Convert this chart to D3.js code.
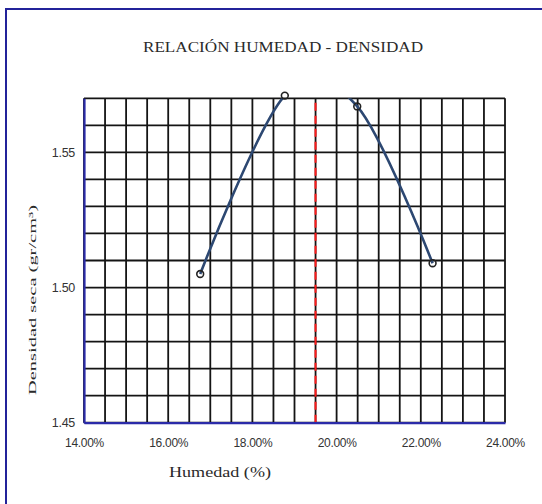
<!DOCTYPE html>
<html>
<head>
<meta charset="utf-8">
<script src="https://cdn.jsdelivr.net/npm/d3@7"></script>
<style>
  body { margin: 0; background: #fff; }
  svg { display: block; }
</style>
</head>
<body>
<svg id="chart" width="542" height="504"></svg>
<script>
// Compaction test: moisture content vs dry density
const humedad = [0.1676, 0.1877, 0.2049, 0.2228];
const densidad = [1.505, 1.571, 1.567, 1.509];
const humedadOptima = 0.195;

const xTicks = [0.14, 0.16, 0.18, 0.20, 0.22, 0.24];
const yTicks = [1.45, 1.50, 1.55];
const xDomain = [0.14, 0.24];
const yDomain = [1.45, 1.57];
const xGridStep = 0.005;
const yGridStep = 0.01;

const titulo = "RELACIÓN HUMEDAD - DENSIDAD";
const tituloX = "Humedad (%)";
const tituloY = "Densidad seca (gr/cm³)";

const svg = d3.select("#chart");
const plot = { left: 84, right: 505, top: 98.3, bottom: 422.7 };

const x = d3.scaleLinear().domain(xDomain).range([plot.left, plot.right]);
const y = d3.scaleLinear().domain(yDomain).range([plot.bottom, plot.top]);

// outer frame of the chart object
svg.append("rect")
  .attr("x", 6).attr("y", 9).attr("width", 620).attr("height", 600)
  .attr("fill", "none").attr("stroke", "#23239a").attr("stroke-width", 2);

// title
svg.append("text")
  .attr("x", 283).attr("y", 52)
  .attr("text-anchor", "middle")
  .attr("font-family", "'Liberation Serif', 'Times New Roman', serif")
  .attr("font-size", 15.5)
  .attr("textLength", 280).attr("lengthAdjust", "spacingAndGlyphs")
  .attr("fill", "#2a2a2a")
  .text(titulo);

// grid
const xGrid = d3.range(0, Math.round((xDomain[1] - xDomain[0]) / xGridStep) + 1)
  .map(i => xDomain[0] + i * xGridStep);
const yGrid = d3.range(0, Math.round((yDomain[1] - yDomain[0]) / yGridStep) + 1)
  .map(i => yDomain[0] + i * yGridStep);

const grid = svg.append("g").attr("stroke", "#141414").attr("stroke-width", 1.8);
grid.selectAll("line.v").data(xGrid).join("line").attr("class", "v")
  .attr("x1", d => x(d)).attr("x2", d => x(d))
  .attr("y1", plot.top).attr("y2", plot.bottom);
grid.selectAll("line.h").data(yGrid).join("line").attr("class", "h")
  .attr("x1", plot.left).attr("x2", plot.right)
  .attr("y1", d => y(d)).attr("y2", d => y(d));

// optimum moisture marker
svg.append("line")
  .attr("x1", x(humedadOptima)).attr("x2", x(humedadOptima))
  .attr("y1", y(yDomain[0])).attr("y2", y(yDomain[1]))
  .attr("stroke", "#ff1a1a").attr("stroke-width", 2)
  .attr("stroke-dasharray", "8,5");

// axes
const fontTicks = "'Liberation Sans', Arial, sans-serif";
const xAxis = svg.append("g")
  .attr("transform", `translate(0,${plot.bottom})`)
  .call(d3.axisBottom(x).tickValues(xTicks).tickFormat(d3.format(".2%"))
    .tickSize(0).tickPadding(16));
const yAxis = svg.append("g")
  .attr("transform", `translate(${plot.left},0)`)
  .call(d3.axisLeft(y).tickValues(yTicks).tickFormat(d3.format(".2f"))
    .tickSize(0).tickPadding(9));

[xAxis, yAxis].forEach(a => {
  a.select(".domain").attr("stroke", "#2b2ba8").attr("stroke-width", 2.2);
  a.selectAll("text").attr("font-family", fontTicks)
    .attr("fill", "#333").attr("letter-spacing", -0.3);
});
xAxis.selectAll("text").attr("font-size", 12);
yAxis.selectAll("text").attr("font-size", 12.5);

// series curve, clipped to the plot area
svg.append("clipPath").attr("id", "plotClip")
  .append("rect")
  .attr("x", plot.left).attr("y", plot.top)
  .attr("width", plot.right - plot.left).attr("height", plot.bottom - plot.top);

const puntos = humedad.map((h, i) => [h, densidad[i]]);
const linea = d3.line()
  .x(d => x(d[0])).y(d => y(d[1]))
  .curve(d3.curveCardinal.tension(0));

svg.append("path")
  .datum(puntos)
  .attr("clip-path", "url(#plotClip)")
  .attr("d", linea)
  .attr("fill", "none")
  .attr("stroke", "#2d4872").attr("stroke-width", 2.6);

svg.selectAll("circle.pt").data(puntos).join("circle").attr("class", "pt")
  .attr("cx", d => x(d[0])).attr("cy", d => y(d[1])).attr("r", 3.4)
  .attr("fill", "none").attr("stroke", "#222").attr("stroke-width", 1.6);

// axis titles
svg.append("text")
  .attr("x", 220).attr("y", 477)
  .attr("text-anchor", "middle")
  .attr("font-family", "'Liberation Serif', 'Times New Roman', serif")
  .attr("font-size", 15)
  .attr("textLength", 102).attr("lengthAdjust", "spacingAndGlyphs")
  .attr("fill", "#2a2a2a")
  .text(tituloX);

svg.append("text")
  .attr("transform", "translate(36,300) rotate(-90)")
  .attr("text-anchor", "middle")
  .attr("font-family", "'Liberation Serif', 'Times New Roman', serif")
  .attr("font-size", 11)
  .attr("textLength", 190).attr("lengthAdjust", "spacingAndGlyphs")
  .attr("fill", "#2a2a2a")
  .text(tituloY);
</script>
</body>
</html>
